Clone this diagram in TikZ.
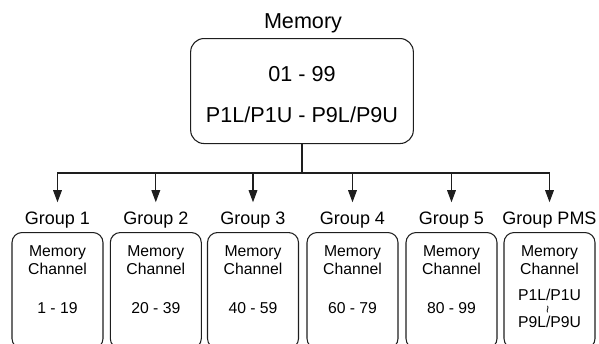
\documentclass[tikz,border=0pt]{standalone}
\usepackage{fontspec}
\setmainfont{Liberation Sans}
\usepackage{graphicx}
\usetikzlibrary{arrows.meta}
\definecolor{ink}{HTML}{1E1E1E}
\tikzset{
  topbox/.style={draw=ink,line width=0.8pt,rounded corners=10pt,inner sep=0pt,
                 minimum width=167pt,text height=32.25pt,text depth=46.5pt,
                 font=\fontsize{16.2}{30.5}\selectfont},
  chbox/.style={draw=ink,line width=0.8pt,rounded corners=7.5pt,inner sep=0pt,
                minimum width=68.25pt,text height=18pt,text depth=69pt,
                font=\fontsize{11.8}{13.7}\selectfont},
  glabel/.style={inner sep=0pt,text height=16.5pt,
                 font=\fontsize{13.5}{16}\selectfont},
  headlabel/.style={inner sep=0pt,font=\fontsize{16.2}{19}\selectfont},
  busline/.style={draw=ink,line width=0.8pt},
  busarr/.style={-{Triangle[length=9pt,width=6.5pt]},line width=0.8pt,draw=ink}
}

\begin{document}
\begin{tikzpicture}[x=0.75pt,y=-0.75pt]
    \useasboundingbox (0,0) rectangle (599,343);
    \clip (0,0) rectangle (599,343);

    \node[headlabel,anchor=base] (title) at (303,28.5) {Memory};
    \node[topbox,anchor=north] (mem) at (302,38)
      {\begin{tabular}[t]{c}01 - 99\\P1L/P1U - P9L/P9U\end{tabular}};
    \coordinate (bus) at (302,173);
    \draw[busline] (mem.south) -- (bus);

    \foreach \i/\x/\rng in {1/57.5/1 - 19,2/155.8/20 - 39,3/253/40 - 59,
                            4/352.5/60 - 79,5/451.5/80 - 99}{
      \node[glabel,anchor=base] (g\i) at (\x,224.5) {Group \i};
      \node[chbox,anchor=north] (c\i) at (\x,232)
        {\begin{tabular}[t]{c}Memory\\Channel\\[15.5pt]\rng\end{tabular}};
      \draw[busarr] (bus) -| (g\i.north);
    }

    \node[glabel,anchor=base] (gpms) at (549.5,224.5) {Group PMS};
    \node[chbox,anchor=north] (cpms) at (549.5,232)
      {\begin{tabular}[t]{c}Memory\\Channel\\[5.6pt]P1L/P1U\\[-4pt]
       \rotatebox{90}{\fontsize{10}{10}\selectfont\textasciitilde}\\[-3.4pt]
       P9L/P9U\end{tabular}};
    \draw[busarr] (bus) -| (gpms.north);
\end{tikzpicture}
\end{document}
